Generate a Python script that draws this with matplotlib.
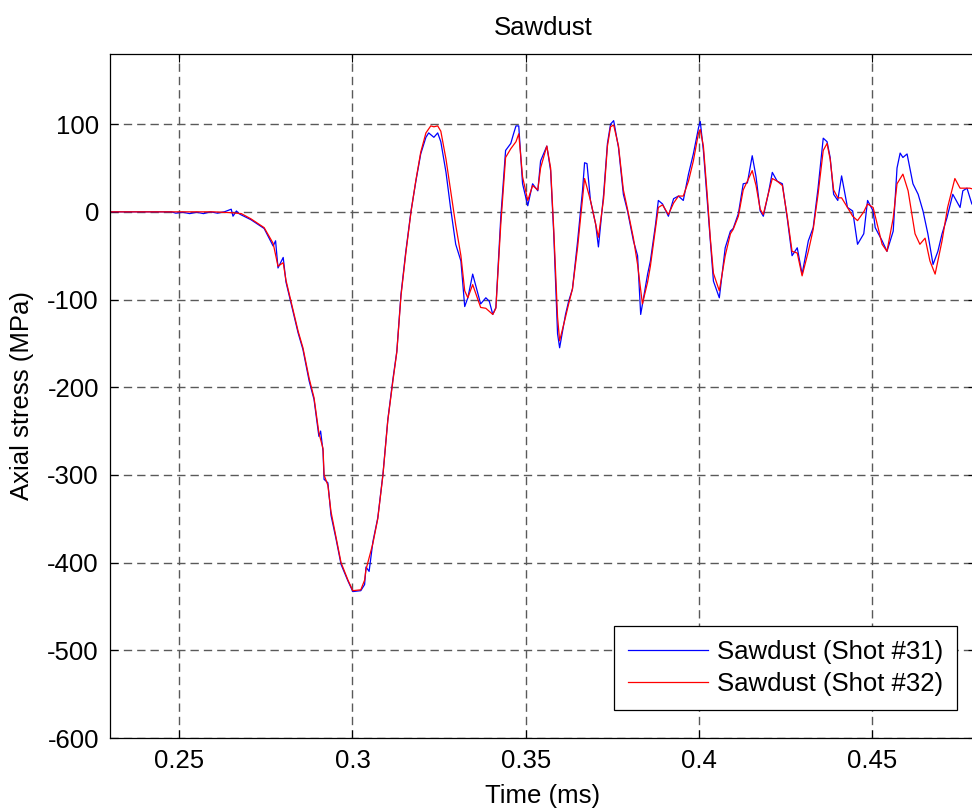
import matplotlib
matplotlib.use("Agg")
import matplotlib.pyplot as plt
import numpy as np

plt.rcParams['font.family'] = ['Liberation Sans', 'DejaVu Sans']
plt.rcParams['lines.scale_dashes'] = False
plt.rcParams['axes.unicode_minus'] = False

# Shot #31 (blue), time in ms, axial stress in MPa
t31 = [0.23, 0.2477, 0.2490, 0.2510, 0.2530, 0.2550, 0.2570, 0.2590, 0.2610,
       0.2630, 0.2650, 0.2655, 0.2665, 0.2672, 0.2679, 0.2707, 0.2745, 0.2771,
       0.2778, 0.2785, 0.2800, 0.2808, 0.2820, 0.2829, 0.2843, 0.2857, 0.2875,
       0.2889, 0.2903, 0.2908, 0.2915, 0.2918, 0.2929, 0.2938, 0.2952, 0.2967,
       0.2987, 0.3001, 0.3024, 0.3035, 0.3039, 0.3048, 0.3059, 0.3073, 0.3088,
       0.3102, 0.3117, 0.3128, 0.3140, 0.3154, 0.3169, 0.3183, 0.3197, 0.3212,
       0.3220, 0.3235, 0.3246, 0.3255, 0.3270, 0.3283, 0.3298, 0.3313, 0.3324,
       0.3333, 0.3347, 0.3370, 0.3385, 0.3395, 0.3405, 0.3414, 0.3428, 0.3442,
       0.3457, 0.3465, 0.3472, 0.3480, 0.3491, 0.3506, 0.3520, 0.3535, 0.3543,
       0.3561, 0.3572, 0.3581, 0.3592, 0.3598, 0.3615, 0.3624, 0.3635, 0.3650,
       0.3664, 0.3670, 0.3677, 0.3687, 0.3702, 0.3710, 0.3725, 0.3736, 0.3745,
       0.3754, 0.3768, 0.3782, 0.3794, 0.3811, 0.3823, 0.3832, 0.3852, 0.3860,
       0.3875, 0.3883, 0.3895, 0.3912, 0.3927, 0.3941, 0.3955, 0.3970, 0.3984,
       0.3999, 0.4004, 0.4013, 0.4024, 0.4033, 0.4042, 0.4059, 0.4076, 0.4091,
       0.4099, 0.4114, 0.4128, 0.4140, 0.4154, 0.4165, 0.4177, 0.4186, 0.4200,
       0.4212, 0.4226, 0.4241, 0.4255, 0.4269, 0.4284, 0.4298, 0.4316, 0.4330,
       0.4344, 0.4359, 0.4370, 0.4379, 0.4389, 0.4401, 0.4412, 0.4429, 0.4444,
       0.4458, 0.4476, 0.4487, 0.4503, 0.4509, 0.4529, 0.4543, 0.4561, 0.4572,
       0.4581, 0.4589, 0.4601, 0.4618, 0.4633, 0.4647, 0.4661, 0.4676, 0.4690,
       0.4702, 0.4716, 0.4733, 0.4754, 0.4762, 0.4774, 0.4788, 0.48]
s31 = [0, 0, -1.5, -0.5, -2, -0.5, -2, 0, -1.5,
       0, 3, -5, 1, -2, -3.5, -9, -19, -39,
       -33, -64, -52, -80, -100, -115, -138, -157, -193,
       -214, -256, -250, -273, -305, -309, -346, -372, -402,
       -421, -433, -432, -425, -405, -410, -376, -349, -299,
       -237, -190, -159, -94, -45, 1, 35, 66, 85,
       90, 85, 90, 80, 45, 5, -37, -56, -108,
       -98, -71, -105, -98, -102, -117, -109, -7, 70,
       78, 89, 98, 98, 32, 7, 32, 24, 58,
       75, 47, -25, -139, -155, -117, -102, -88, -33,
       24, 56, 55, 13, -14, -40, 20, 78, 100,
       104, 73, 20, 1, -33, -50, -117, -71, -56,
       -14, 13, 9, -5, 15, 18, 13, 43, 66,
       96, 103, 70, 13, -33, -79, -98, -41, -22,
       -19, -2, 32, 33, 64, 40, 1, -5, 20,
       45, 35, 32, -7, -50, -41, -71, -33, -18,
       27, 84, 80, 62, 20, 13, 41, 5, 1,
       -37, -25, 13, 1, -18, -33, -45, -22, 50,
       67, 62, 66, 32, 20, 1, -25, -60, -45,
       -25, -7, 20, 5, 24, 27, 9, 5]

# Shot #32 (red)
t32 = [0.23, 0.2477, 0.2600, 0.2650, 0.2679, 0.2707, 0.2745, 0.2771, 0.2785,
       0.2800, 0.2808, 0.2820, 0.2829, 0.2843, 0.2857, 0.2875, 0.2889, 0.2903,
       0.2915, 0.2918, 0.2929, 0.2938, 0.2952, 0.2967, 0.2987, 0.3001, 0.3024,
       0.3035, 0.3039, 0.3059, 0.3073, 0.3088, 0.3102, 0.3117, 0.3128, 0.3140,
       0.3154, 0.3169, 0.3183, 0.3197, 0.3212, 0.3226, 0.3235, 0.3246, 0.3255,
       0.3270, 0.3283, 0.3298, 0.3313, 0.3324, 0.3333, 0.3347, 0.3370, 0.3385,
       0.3405, 0.3414, 0.3428, 0.3442, 0.3457, 0.3472, 0.3480, 0.3491, 0.3506,
       0.3520, 0.3535, 0.3543, 0.3561, 0.3572, 0.3581, 0.3592, 0.3598, 0.3615,
       0.3624, 0.3635, 0.3650, 0.3664, 0.3670, 0.3687, 0.3702, 0.3710, 0.3725,
       0.3736, 0.3745, 0.3754, 0.3768, 0.3782, 0.3794, 0.3811, 0.3823, 0.3837,
       0.3852, 0.3860, 0.3875, 0.3883, 0.3895, 0.3912, 0.3927, 0.3941, 0.3955,
       0.3970, 0.3984, 0.3999, 0.4004, 0.4013, 0.4024, 0.4033, 0.4042, 0.4059,
       0.4076, 0.4091, 0.4099, 0.4114, 0.4128, 0.4140, 0.4154, 0.4165, 0.4177,
       0.4186, 0.4200, 0.4212, 0.4226, 0.4241, 0.4255, 0.4269, 0.4284, 0.4298,
       0.4316, 0.4330, 0.4344, 0.4359, 0.4370, 0.4379, 0.4389, 0.4401, 0.4412,
       0.4429, 0.4444, 0.4458, 0.4476, 0.4487, 0.4503, 0.4529, 0.4543, 0.4561,
       0.4572, 0.4589, 0.4604, 0.4624, 0.4638, 0.4653, 0.4667, 0.4682, 0.4702,
       0.4718, 0.4739, 0.4754, 0.4782, 0.48]
s32 = [0, 0, 0, -1, -2, -8, -18, -36, -62,
       -58, -78, -98, -113, -136, -155, -190, -212, -252,
       -270, -300, -312, -342, -370, -400, -420, -432, -431,
       -420, -408, -378, -350, -300, -238, -192, -160, -96,
       -47, 0, 36, 68, 90, 98, 97, 98, 92,
       60, 25, -15, -50, -90, -98, -83, -109, -110,
       -117, -110, -15, 62, 72, 80, 89, 40, 13,
       30, 25, 50, 75, 50, -20, -120, -147, -120,
       -105, -88, -40, 15, 38, 13, -14, -29, 15,
       75, 97, 99, 75, 25, 3, -30, -60, -105,
       -80, -62, -18, 5, 8, -3, 10, 18, 18,
       35, 58, 90, 94, 75, 20, -30, -70, -90,
       -50, -25, -20, -5, 25, 35, 47, 30, 3,
       -3, 20, 38, 35, 30, -5, -45, -47, -73,
       -45, -20, 20, 70, 78, 60, 25, 16, 16,
       5, -5, -10, 0, 9, 5, -37, -45, -7,
       32, 43, 24, -25, -37, -30, -56, -71, -33,
       5, 38, 27, 27, 25]

labels = ['Sawdust (Shot #31)', 'Sawdust (Shot #32)']
xticks = [0.25, 0.3, 0.35, 0.4, 0.45]
xticklabels = ['0.25', '0.3', '0.35', '0.4', '0.45']
yticks = [-600, -500, -400, -300, -200, -100, 0, 100]

W, H = 972, 811
fig = plt.figure(figsize=(W / 100, H / 100), dpi=100)
# right edge of the axes falls just outside the picture, as in the original
ax = fig.add_axes([110 / W, (H - 738) / H, (976 - 110) / W, (738 - 54) / H])

ax.plot(t31, s31, color='#0000ff', lw=0.9, label=labels[0])
ax.plot(t32, s32, color='#ff0000', lw=0.9, label=labels[1])

ax.set_xlim(0.23, 0.48)
ax.set_ylim(-600, 180)
ax.set_xticks(xticks)
ax.set_xticklabels(xticklabels)
ax.set_yticks(yticks)

fs = 18.5
ax.tick_params(direction='in', length=6, width=0.8, top=True, right=True,
               labelsize=fs, pad=8)
ax.grid(True, color='0.35', linestyle=(0, (6, 3.6)), linewidth=1.0)
for sp in ax.spines.values():
    sp.set_linewidth(0.9)
    sp.set_color('black')

ax.set_title('Sawdust', fontsize=fs, pad=14)
ax.set_xlabel('Time (ms)', fontsize=fs, labelpad=8)
ax.set_ylabel('Axial stress (MPa)', fontsize=fs)
ax.yaxis.set_label_coords((34 - 110) / (976 - 110), 0.5)

leg = ax.legend(loc='lower right', bbox_to_anchor=(957 / W, (H - 710) / H),
                bbox_transform=fig.transFigure, fontsize=fs, frameon=True,
                fancybox=False, framealpha=1, edgecolor='black',
                handlelength=3.1, handletextpad=0.35, borderaxespad=0,
                borderpad=0.55, labelspacing=0.3)
leg.get_frame().set_linewidth(0.9)

fig.savefig('out.png', dpi=100)
